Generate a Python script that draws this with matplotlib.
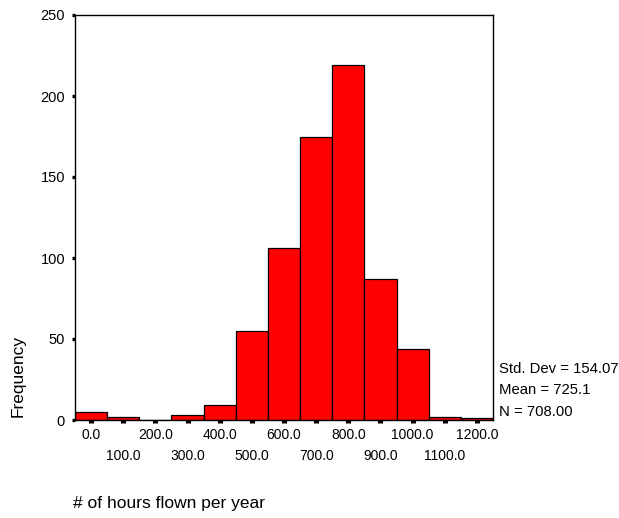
import matplotlib
matplotlib.use("Agg")
import matplotlib.pyplot as plt
import numpy as np

plt.rcParams['font.family'] = ['Liberation Sans', 'DejaVu Sans']

bin_centers = [0, 100, 200, 300, 400, 500, 600, 700, 800, 900, 1000, 1100, 1200]
frequencies = [5, 2, 0, 3, 9, 55, 106, 175, 219, 87, 44, 2, 1]
bin_width = 100
major_labels = ["0.0", "200.0", "400.0", "600.0", "800.0", "1000.0", "1200.0"]
minor_labels = ["100.0", "300.0", "500.0", "700.0", "900.0", "1100.0"]
y_ticks = [0, 50, 100, 150, 200, 250]
stats_lines = ["Std. Dev = 154.07", "Mean = 725.1", "N = 708.00"]
x_title = "# of hours flown per year"
y_title = "Frequency"

W, H = 619, 518
fig = plt.figure(figsize=(W / 100, H / 100), dpi=100)
ax = fig.add_axes([75 / W, 1 - 420 / H, (493 - 75) / W, (420 - 15) / H])

ax.bar(bin_centers, frequencies, width=bin_width, color="#ff0000",
       edgecolor="black", linewidth=0.9, align="center", zorder=2)

ax.set_xlim(-50, 1250)
ax.set_ylim(0, 250)

ax.set_xticks(bin_centers[0::2])
ax.set_xticklabels(major_labels)
ax.set_xticks(bin_centers[1::2], minor=True)
ax.set_xticklabels(minor_labels, minor=True)
ax.set_yticks(y_ticks)
ax.set_yticklabels([str(v) for v in y_ticks])

ax.tick_params(axis="x", which="both", direction="out", length=2.2, width=3.6,
               labelsize=10)
ax.tick_params(axis="x", which="major", pad=3.4)
ax.tick_params(axis="x", which="minor", pad=18.5)
ax.tick_params(axis="y", which="major", direction="out", length=2.2, width=2.4,
               labelsize=10.5, pad=5)

for s in ax.spines.values():
    s.set_linewidth(1.0)
    s.set_color("black")

fig.text(18 / W, 1 - 376 / H, y_title, rotation=90, ha="center", va="center",
         fontsize=12.5)
fig.text(73 / W, 1 - 508 / H, x_title, ha="left", va="baseline", fontsize=12.5)

baselines = [372.7, 394.5, 416]
for txt, yb in zip(stats_lines, baselines):
    fig.text(499 / W, 1 - yb / H, txt, ha="left", va="baseline", fontsize=10.7)

fig.savefig("out.png", dpi=100)
